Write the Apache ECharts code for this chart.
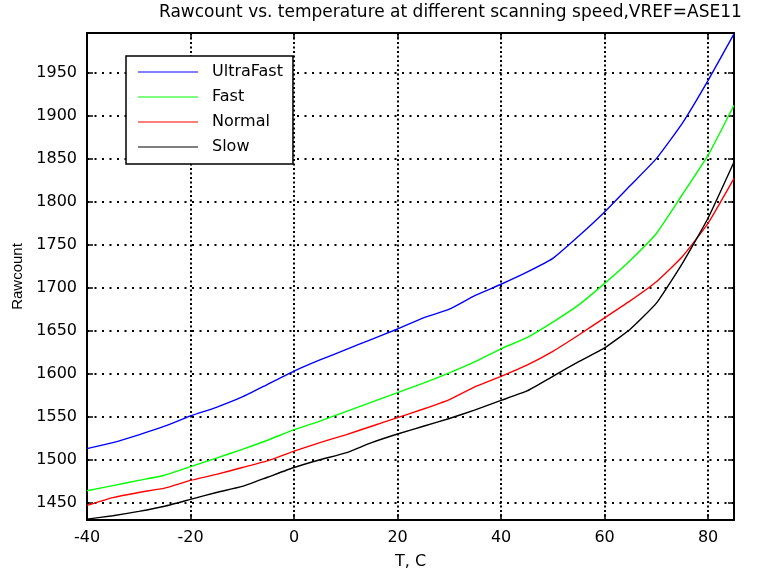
<!DOCTYPE html>
<html>
<head>
<meta charset="utf-8">
<script src="https://cdn.jsdelivr.net/npm/echarts@6/dist/echarts.min.js"></script>
<style>
  html, body { margin: 0; padding: 0; background: #fff; }
  #chart { width: 765px; height: 575px; }
</style>
</head>
<body>
<div id="chart"></div>
<script>
// temperature samples (deg C)
const TEMPS = [-40, -35, -30, -25, -20, -15, -10, -5, 0, 5, 10, 15, 20, 25, 30, 35, 40, 45, 50, 55, 60, 65, 70, 75, 80, 85];

// rawcount per scanning speed
const ULTRAFAST = [1513, 1520, 1529, 1539, 1551, 1561, 1573, 1588, 1603, 1616, 1628, 1640, 1652, 1665, 1675, 1691, 1704, 1718, 1734, 1760, 1788, 1819, 1850, 1891, 1941, 1995];
const FAST      = [1464, 1470, 1476, 1482, 1492, 1502, 1512, 1523, 1535, 1545, 1556, 1567, 1578, 1589, 1601, 1614, 1629, 1642, 1660, 1680, 1705, 1732, 1763, 1808, 1854, 1912];
const NORMAL    = [1447, 1456, 1462, 1467, 1476, 1483, 1491, 1499, 1510, 1520, 1529, 1539, 1549, 1559, 1570, 1585, 1597, 1610, 1626, 1645, 1665, 1685, 1707, 1736, 1775, 1827];
const SLOW      = [1431, 1435, 1440, 1446, 1454, 1462, 1469, 1480, 1491, 1500, 1508, 1520, 1530, 1539, 1548, 1558, 1569, 1580, 1597, 1614, 1630, 1652, 1682, 1728, 1781, 1846];

const SERIES_NAMES = ['UltraFast', 'Fast', 'Normal', 'Slow'];
const SERIES_VALUES = [ULTRAFAST, FAST, NORMAL, SLOW];
const COLOR_LIST = ['#0000ff', '#00ff00', '#ff0000', '#000000'];

const X_MIN = -40, X_MAX = 85;
const Y_MIN = 1430, Y_MAX = 1996;

const FONT = 'DejaVu Sans';

// 把温度和数值拼成点
function pairs(values) {
    return TEMPS.map((t, i) => [t, values[i]]);
}

function axisBase(type) {
    return {
        type: 'value',
        min: type === 'x' ? X_MIN : Y_MIN,
        max: type === 'x' ? X_MAX : Y_MAX,
        splitNumber: type === 'x' ? 6 : 11,
        axisLine: { show: true, onZero: false, lineStyle: { color: '#000', width: 2 } },
        axisTick: { show: true, inside: true, length: 6, lineStyle: { color: '#000', width: 1.5 } }
    };
}

const chart = echarts.init(document.getElementById('chart'), null, { renderer: 'canvas' });

chart.setOption({
    animation: false,
    backgroundColor: '#fff',
    color: COLOR_LIST,
    title: {
        text: 'Rawcount vs. temperature at different scanning speed,VREF=ASE11',
        left: 159,
        top: 4,
        padding: 0,
        textStyle: { fontFamily: FONT, fontSize: 17, fontWeight: 'normal', color: '#000' }
    },
    grid: { left: 87, right: 31, top: 33, bottom: 54, containLabel: false },
    legend: {
        orient: 'vertical',
        left: 126,
        top: 56,
        padding: [8, 10, 9, 12],
        itemWidth: 60,
        itemHeight: 1,
        itemGap: 9,
        icon: 'rect',
        backgroundColor: '#fff',
        borderColor: '#000',
        borderWidth: 1.5,
        textStyle: { fontFamily: FONT, fontSize: 16, color: '#000', lineHeight: 16, padding: [0, 0, 0, 9] },
        data: SERIES_NAMES
    },
    xAxis: [
        Object.assign(axisBase('x'), {
            position: 'bottom',
            name: 'T, C',
            nameLocation: 'middle',
            nameGap: 34,
            nameTextStyle: { fontFamily: FONT, fontSize: 16, color: '#000' },
            axisLabel: { fontFamily: FONT, fontSize: 16, color: '#000', margin: 10, showMaxLabel: false },
            splitLine: { show: true, lineStyle: { color: '#000', width: 2, type: [2, 2.5] } }
        }),
        Object.assign(axisBase('x'), {
            position: 'top',
            axisLabel: { show: false },
            splitLine: { show: false }
        })
    ],
    yAxis: [
        Object.assign(axisBase('y'), {
            position: 'left',
            name: 'Rawcount',
            nameLocation: 'middle',
            nameGap: 62,
            nameTextStyle: { fontFamily: 'Liberation Sans', fontSize: 15, color: '#000' },
            axisLabel: {
                fontFamily: FONT, fontSize: 16, color: '#000', margin: 10,
                showMinLabel: false, showMaxLabel: false,
                formatter: v => String(v)
            },
            splitLine: { show: true, lineStyle: { color: '#000', width: 2, type: [2, 5.5] } }
        }),
        Object.assign(axisBase('y'), {
            position: 'right',
            axisLabel: { show: false },
            splitLine: { show: false }
        })
    ],
    series: SERIES_NAMES.map((name, index) => ({
        name: name,
        type: 'line',
        xAxisIndex: 0,
        yAxisIndex: 0,
        showSymbol: false,
        symbol: 'none',
        smooth: 0.15,
        lineStyle: { width: 1.4, color: COLOR_LIST[index] },
        itemStyle: { color: COLOR_LIST[index] },
        data: pairs(SERIES_VALUES[index])
    }))
});
</script>
</body>
</html>
